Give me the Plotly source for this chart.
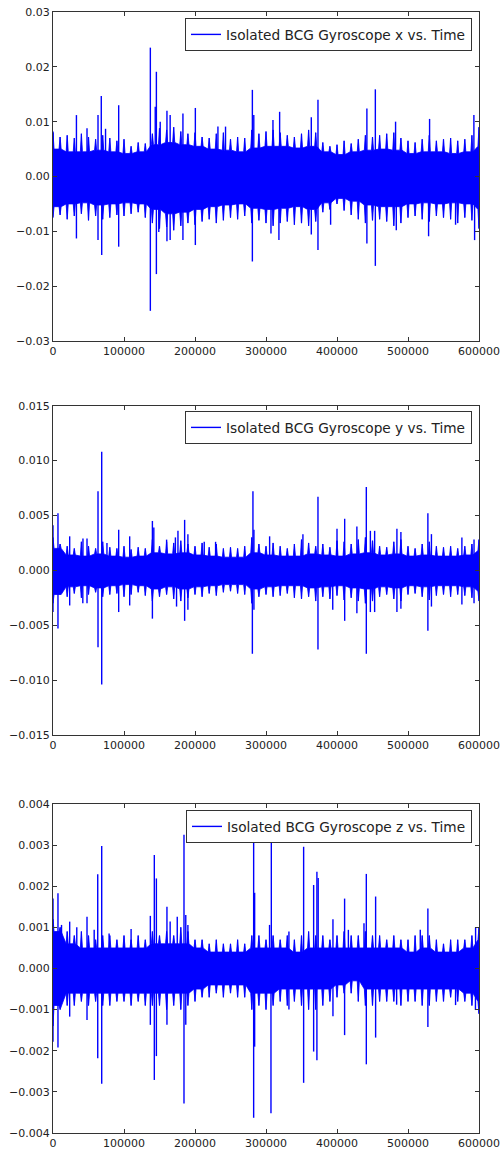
import plotly.graph_objects as go

# ---------------- data ----------------
T_CORE = [i * 20000 for i in range(31)]      # time grid of the dense core band
T_FRINGE = [i * 10000 for i in range(61)]    # time grid of the fringe edge

# ---- Gyroscope x ----
gx_core_hi = [0.0050, 0.0045, 0.0045, 0.0048, 0.0045, 0.0042, 0.0045, 0.0058, 0.0062, 0.0058,
              0.0055, 0.0050, 0.0048, 0.0045, 0.0052, 0.0055, 0.0055, 0.0052, 0.0055, 0.0045,
              0.0040, 0.0045, 0.0048, 0.0050, 0.0048, 0.0042, 0.0045, 0.0045, 0.0042, 0.0045, 0.0055]
gx_core_lo = [-0.0055, -0.0050, -0.0048, -0.0052, -0.0050, -0.0048, -0.0050, -0.0060, -0.0068, -0.0065,
              -0.0060, -0.0055, -0.0052, -0.0050, -0.0058, -0.0060, -0.0058, -0.0055, -0.0060, -0.0048,
              -0.0040, -0.0045, -0.0052, -0.0055, -0.0055, -0.0050, -0.0048, -0.0050, -0.0048, -0.0050, -0.0060]
gx_fringe_hi = [0.0080, 0.0072, 0.0075, 0.0070, 0.0078, 0.0072, 0.0068, 0.0075, 0.0070, 0.0065,
                0.0068, 0.0055, 0.0062, 0.0060, 0.0078, 0.0088, 0.0085, 0.0090, 0.0082, 0.0078,
                0.0080, 0.0072, 0.0070, 0.0078, 0.0080, 0.0068, 0.0072, 0.0070, 0.0085, 0.0078,
                0.0082, 0.0085, 0.0080, 0.0075, 0.0072, 0.0078, 0.0085, 0.0080, 0.0062, 0.0055,
                0.0058, 0.0065, 0.0060, 0.0068, 0.0075, 0.0072, 0.0075, 0.0078, 0.0080, 0.0070,
                0.0065, 0.0062, 0.0068, 0.0075, 0.0065, 0.0068, 0.0070, 0.0065, 0.0068, 0.0075, 0.0090]
gx_fringe_lo = [-0.0075, -0.0070, -0.0078, -0.0072, -0.0068, -0.0080, -0.0072, -0.0078, -0.0075, -0.0070,
                -0.0072, -0.0068, -0.0065, -0.0075, -0.0085, -0.0095, -0.0092, -0.0098, -0.0090, -0.0085,
                -0.0088, -0.0082, -0.0078, -0.0085, -0.0080, -0.0075, -0.0078, -0.0072, -0.0085, -0.0080,
                -0.0085, -0.0090, -0.0085, -0.0082, -0.0088, -0.0085, -0.0090, -0.0082, -0.0065, -0.0060,
                -0.0050, -0.0062, -0.0070, -0.0078, -0.0085, -0.0080, -0.0078, -0.0082, -0.0090, -0.0085,
                -0.0075, -0.0072, -0.0078, -0.0082, -0.0072, -0.0075, -0.0078, -0.0085, -0.0075, -0.0080, -0.0095]
gx_spike_t = [0, 33000, 47900, 63400, 68000, 74000, 92500, 137100, 144000, 145600, 151000, 160500,
              165000, 183000, 200500, 232300, 243000, 280800, 282800, 309800, 319200, 363800, 373200,
              442100, 454000, 482500, 530400, 592800,
              33000, 63400, 68600, 92500, 137100, 145600, 149000, 160500, 165000, 183000, 200500,
              280800, 307000, 318200, 363800, 373200, 391000, 442100, 454000, 483500, 529000, 567000, 593800]
gx_spike_v = [0.0082, 0.0112, 0.0088, 0.0112, 0.0147, 0.0087, 0.0130, 0.0235, 0.0127, 0.0191, 0.0100, 0.0120,
              0.0112, 0.0115, 0.0125, 0.0091, 0.0091, 0.0158, 0.0112, 0.0103, 0.0118, 0.0108, 0.0140,
              0.0124, 0.0159, 0.0100, 0.0105, 0.0112,
              -0.0113, -0.0116, -0.0143, -0.0128, -0.0245, -0.0178, -0.0101, -0.0118, -0.0116, -0.0116, -0.0125,
              -0.0155, -0.0104, -0.0116, -0.0106, -0.0134, -0.0088, -0.0122, -0.0163, -0.0098, -0.0109, -0.0088, -0.0116]

# ---- Gyroscope y ----
gy_core_hi = [0.0020, 0.0014, 0.0013, 0.0015, 0.0013, 0.0012, 0.0013, 0.0016, 0.0015, 0.0016,
              0.0014, 0.0013, 0.0012, 0.0012, 0.0016, 0.0014, 0.0013, 0.0013, 0.0015, 0.0014,
              0.0013, 0.0015, 0.0016, 0.0014, 0.0015, 0.0013, 0.0014, 0.0013, 0.0013, 0.0014, 0.0018]
gy_core_lo = [-0.0022, -0.0015, -0.0014, -0.0016, -0.0014, -0.0013, -0.0014, -0.0017, -0.0015, -0.0017,
              -0.0015, -0.0014, -0.0013, -0.0013, -0.0017, -0.0015, -0.0014, -0.0014, -0.0016, -0.0015,
              -0.0014, -0.0016, -0.0017, -0.0015, -0.0016, -0.0014, -0.0015, -0.0014, -0.0014, -0.0015, -0.0019]
gy_fringe_hi = [0.0030, 0.0024, 0.0022, 0.0020, 0.0026, 0.0022, 0.0020, 0.0026, 0.0021, 0.0020,
                0.0022, 0.0019, 0.0021, 0.0020, 0.0028, 0.0022, 0.0026, 0.0025, 0.0027, 0.0024,
                0.0022, 0.0025, 0.0021, 0.0024, 0.0020, 0.0021, 0.0020, 0.0022, 0.0030, 0.0024,
                0.0022, 0.0025, 0.0022, 0.0020, 0.0024, 0.0028, 0.0025, 0.0022, 0.0024, 0.0021,
                0.0027, 0.0026, 0.0024, 0.0028, 0.0030, 0.0027, 0.0022, 0.0021, 0.0026, 0.0028,
                0.0022, 0.0020, 0.0024, 0.0026, 0.0022, 0.0021, 0.0022, 0.0020, 0.0022, 0.0024, 0.0028]
gy_fringe_lo = [-0.0030, -0.0022, -0.0024, -0.0021, -0.0025, -0.0022, -0.0020, -0.0024, -0.0022, -0.0021,
                -0.0024, -0.0022, -0.0020, -0.0023, -0.0028, -0.0024, -0.0022, -0.0026, -0.0028, -0.0025,
                -0.0022, -0.0024, -0.0021, -0.0023, -0.0020, -0.0019, -0.0021, -0.0022, -0.0030, -0.0024,
                -0.0022, -0.0024, -0.0023, -0.0021, -0.0025, -0.0026, -0.0024, -0.0028, -0.0024, -0.0026,
                -0.0023, -0.0027, -0.0025, -0.0028, -0.0030, -0.0028, -0.0024, -0.0022, -0.0026, -0.0028,
                -0.0022, -0.0021, -0.0024, -0.0027, -0.0023, -0.0022, -0.0024, -0.0022, -0.0023, -0.0025, -0.0028]
gy_spike_t = [0, 7000, 23500, 42200, 47900, 63400, 68600, 76000, 92500, 108000, 140000, 142000, 160000,
              172400, 176000, 185400, 190000, 213000, 229000, 281600, 283000, 305100, 352000, 373200,
              400000, 410800, 428000, 441300, 447000, 453000, 484400, 490000, 528000, 533000, 575900, 593000,
              0, 7000, 23500, 42000, 47900, 63400, 68600, 92500, 108000, 140000, 174000, 185400, 190000,
              280800, 283000, 373200, 394000, 410800, 428000, 441300, 447000, 453000, 484400, 490000,
              528000, 533000, 575900, 593000]
gy_spike_v = [0.0041, 0.0052, 0.0031, 0.0029, 0.0029, 0.0072, 0.0108, 0.0025, 0.0037, 0.0031, 0.0045, 0.0039, 0.0028,
              0.0030, 0.0036, 0.0046, 0.0033, 0.0026, 0.0026, 0.0072, 0.0037, 0.0031, 0.0033, 0.0067,
              0.0038, 0.0047, 0.0040, 0.0076, 0.0036, 0.0036, 0.0038, 0.0035, 0.0052, 0.0033, 0.0030, 0.0028,
              -0.0038, -0.0053, -0.0032, -0.0030, -0.0030, -0.0070, -0.0104, -0.0038, -0.0032, -0.0044, -0.0033, -0.0046, -0.0036,
              -0.0076, -0.0036, -0.0072, -0.0036, -0.0046, -0.0039, -0.0076, -0.0038, -0.0038, -0.0038, -0.0035,
              -0.0055, -0.0033, -0.0031, -0.0030]

# ---- Gyroscope z ----
gz_core_hi = [0.0009, 0.0006, 0.0005, 0.0005, 0.0005, 0.0005, 0.0005, 0.0006, 0.0006, 0.0006,
              0.0005, 0.0004, 0.0004, 0.0004, 0.0005, 0.0005, 0.0005, 0.0004, 0.0005, 0.0005,
              0.0005, 0.0005, 0.0005, 0.0005, 0.0005, 0.0004, 0.0005, 0.0004, 0.0004, 0.0005, 0.0007]
gz_core_lo = [-0.0009, -0.0006, -0.0006, -0.0006, -0.0006, -0.0006, -0.0006, -0.0006, -0.0006, -0.0006,
              -0.0005, -0.0004, -0.0004, -0.0004, -0.0006, -0.0006, -0.0005, -0.0005, -0.0005, -0.0005,
              -0.0004, -0.0003, -0.0005, -0.0005, -0.0005, -0.0005, -0.0005, -0.0005, -0.0005, -0.0006, -0.0008]
gz_fringe_hi = [0.0012, 0.0010, 0.0009, 0.0008, 0.0009, 0.0008, 0.0007, 0.0008, 0.0008, 0.0007,
                0.0008, 0.0007, 0.0008, 0.0007, 0.0009, 0.0008, 0.0009, 0.0008, 0.0010, 0.0009,
                0.0007, 0.0007, 0.0006, 0.0007, 0.0006, 0.0006, 0.0007, 0.0006, 0.0008, 0.0008,
                0.0007, 0.0008, 0.0007, 0.0008, 0.0007, 0.0008, 0.0009, 0.0008, 0.0008, 0.0007,
                0.0008, 0.0009, 0.0008, 0.0008, 0.0009, 0.0008, 0.0008, 0.0007, 0.0008, 0.0007,
                0.0007, 0.0008, 0.0008, 0.0008, 0.0007, 0.0006, 0.0007, 0.0007, 0.0007, 0.0008, 0.0010]
gz_fringe_lo = [-0.0014, -0.0010, -0.0009, -0.0009, -0.0008, -0.0009, -0.0008, -0.0009, -0.0009, -0.0008,
                -0.0008, -0.0009, -0.0008, -0.0009, -0.0009, -0.0009, -0.0010, -0.0009, -0.0010, -0.0009,
                -0.0008, -0.0007, -0.0007, -0.0006, -0.0007, -0.0006, -0.0007, -0.0007, -0.0010, -0.0009,
                -0.0010, -0.0009, -0.0008, -0.0009, -0.0008, -0.0009, -0.0010, -0.0010, -0.0009, -0.0008,
                -0.0007, -0.0006, -0.0006, -0.0008, -0.0009, -0.0009, -0.0008, -0.0008, -0.0008, -0.0009,
                -0.0008, -0.0008, -0.0009, -0.0009, -0.0008, -0.0008, -0.0007, -0.0008, -0.0008, -0.0009, -0.0011]
gz_spike_t = [0, 7000, 12000, 23500, 33500, 47900, 58000, 63000, 68600, 79000, 110000, 137100, 142700,
              145600, 160500, 165000, 175000, 184500, 187000, 190000, 282600, 284000, 305000, 307500,
              332300, 353000, 367100, 371700, 373500, 394300, 410700, 416000, 438000, 441300, 454400,
              517300, 528000, 595200,
              0, 7000, 23500, 47900, 63000, 68600, 137100, 142700, 145600, 160500, 184500, 187000,
              282600, 284000, 307000, 332300, 353000, 367100, 371700, 394300, 410700, 441300, 454400,
              484000, 528000, 567000, 595000]
gz_spike_v = [0.00170, 0.00183, 0.00106, 0.00114, 0.00100, 0.00126, 0.00094, 0.00229, 0.00298, 0.00085,
              0.00096, 0.00128, 0.00276, 0.00219, 0.00150, 0.00114, 0.00126, 0.00325, 0.00130, 0.00106,
              0.00340, 0.00184, 0.00106, 0.00340, 0.00090, 0.00296, 0.00203, 0.00235, 0.00220, 0.00120,
              0.00170, 0.00094, 0.00110, 0.00230, 0.00175, 0.00094, 0.00146, 0.00100,
              -0.00178, -0.00192, -0.00117, -0.00125, -0.00218, -0.00280, -0.00137, -0.00271, -0.00213,
              -0.00137, -0.00328, -0.00137, -0.00363, -0.00190, -0.00352, -0.00100, -0.00278, -0.00202,
              -0.00223, -0.00116, -0.00162, -0.00233, -0.00168, -0.00088, -0.00142, -0.00089, -0.00101]

NAMES = ["Isolated BCG Gyroscope x vs. Time",
         "Isolated BCG Gyroscope y vs. Time",
         "Isolated BCG Gyroscope z vs. Time"]
Y_RANGES = [(-0.03, 0.03), (-0.015, 0.015), (-0.004, 0.004)]
Y_DTICK = [0.01, 0.005, 0.001]
Y_FMT = [".2f", ".3f", ".3f"]
X_TICKS = [0, 100000, 200000, 300000, 400000, 500000, 600000]

# ---------------- layout geometry (pixels) ----------------
W, H = 501, 1151
X0, X1 = 53, 479
PANELS = [(12, 341), (405.7, 735), (804, 1133)]
LEGEND_BOX = [(472, 18), (472, 411), (472, 810)]
BLUE = "#0000ff"
HALF_TOOTH = 1500   # half-width of a fringe tooth, in time units


def segs(ts, a, b):
    xs, ys = [], []
    for t, lo, hi in zip(ts, a, b):
        xs += [t, t, None]
        ys += [lo, hi, None]
    return xs, ys


def toothed(fringe, core):
    """Outline going through the fringe peaks with dips to the core level."""
    xs, ys = [], []
    for i, (t, f) in enumerate(zip(T_FRINGE, fringe)):
        c = core[i // 2]
        if i > 0:
            xs.append(t - HALF_TOOTH); ys.append(c)
        xs.append(t); ys.append(f)
        if i < len(T_FRINGE) - 1:
            xs.append(t + HALF_TOOTH); ys.append(c)
    return xs, ys


fig = go.Figure()
series = [
    (gx_core_hi, gx_core_lo, gx_fringe_hi, gx_fringe_lo, gx_spike_t, gx_spike_v),
    (gy_core_hi, gy_core_lo, gy_fringe_hi, gy_fringe_lo, gy_spike_t, gy_spike_v),
    (gz_core_hi, gz_core_lo, gz_fringe_hi, gz_fringe_lo, gz_spike_t, gz_spike_v),
]

for k, (chi, clo, fhi, flo, st, sv) in enumerate(series):
    xa = "x" if k == 0 else f"x{k+1}"
    ya = "y" if k == 0 else f"y{k+1}"
    lg = "legend" if k == 0 else f"legend{k+1}"
    ux, uy = toothed(fhi, chi)
    lx_, ly_ = toothed(flo, clo)
    fig.add_trace(go.Scatter(
        x=ux + lx_[::-1], y=uy + ly_[::-1], fill="toself",
        fillcolor=BLUE, line=dict(color=BLUE, width=0.8), mode="lines",
        hoverinfo="skip", showlegend=False, xaxis=xa, yaxis=ya))
    # fringe bristles
    fx, fy = segs(T_FRINGE, flo, fhi)
    fig.add_trace(go.Scatter(
        x=fx, y=fy, mode="lines", line=dict(color=BLUE, width=1.2),
        opacity=0.8, hoverinfo="skip", showlegend=False, xaxis=xa, yaxis=ya))
    # spikes
    sx, sy = segs(st, [0] * len(st), sv)
    fig.add_trace(go.Scatter(
        x=sx, y=sy, mode="lines", line=dict(color=BLUE, width=1.4),
        name=NAMES[k], legend=lg, showlegend=True, xaxis=xa, yaxis=ya))

axis_common = dict(showline=True, linecolor="#333", linewidth=1, mirror="ticks",
                   ticks="inside", ticklen=4, tickcolor="#333", showgrid=False,
                   zeroline=False, automargin=False,
                   tickfont=dict(family="DejaVu Sans", size=11, color="#222"))

layout = dict(width=W, height=H, margin=dict(l=0, r=0, t=0, b=0, autoexpand=False),
              paper_bgcolor="white", plot_bgcolor="white", showlegend=True)

for k in range(3):
    top, bot = PANELS[k]
    xs = "" if k == 0 else str(k + 1)
    layout[f"xaxis{xs}"] = dict(axis_common, domain=[X0 / W, X1 / W], range=[0, 600000],
                                tickvals=X_TICKS, tickformat="d", anchor=f"y{xs}")
    layout[f"yaxis{xs}"] = dict(axis_common, domain=[1 - bot / H, 1 - top / H],
                                range=list(Y_RANGES[k]), dtick=Y_DTICK[k], tick0=0,
                                tickformat=Y_FMT[k], anchor=f"x{xs}")
    lx, ly = LEGEND_BOX[k]
    layout["legend" if k == 0 else f"legend{k+1}"] = dict(
        x=lx / W, xanchor="right", y=1 - ly / H, yanchor="top",
        xref="paper", yref="paper",
        bgcolor="white", bordercolor="#333", borderwidth=1, itemwidth=30,
        font=dict(family="DejaVu Sans", size=13.7, color="#222"))

fig.update_layout(**layout)
fig.write_html("out.html", config={"responsive": False})
